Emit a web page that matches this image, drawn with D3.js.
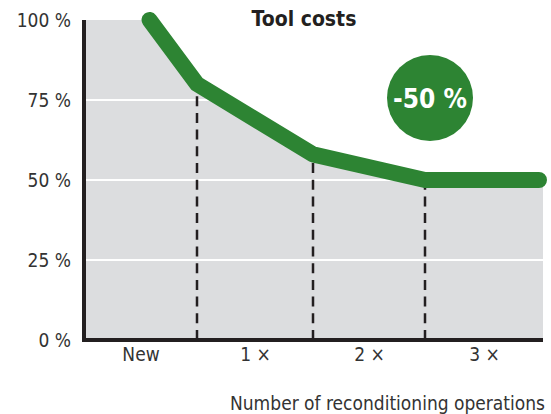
<!DOCTYPE html>
<html>
<head>
<meta charset="utf-8">
<script src="https://cdn.jsdelivr.net/npm/d3@7"></script>
<style>
  body { margin: 0; background: #fff; }
  text { font-family: "DejaVu Sans Condensed", "DejaVu Sans", sans-serif; }
</style>
</head>
<body>
<div id="chart"></div>
<script>
// categories along the x axis (one band each)
const categories = ["New", "1 \u00d7", "2 \u00d7", "3 \u00d7"];
// cost curve: position in operations and cost in percent
const costX = [0.58, 1, 2, 3, 3.966];
const costY = [100, 80, 58, 50, 50];
// grey area under the curve
const areaX = [0, 0.58, 1, 2, 3, 4];
const areaY = [100, 100, 80, 58, 50, 50];
// y ticks
const yTicks = [0, 25, 50, 75, 100];
const gridTicks = [25, 50, 75];
// boundaries where the dashed lines sit
const boundaries = [1, 2, 3];
const boundaryY = [80, 58, 50];

const W = 551, H = 414;

const svg = d3.select("#chart").append("svg")
    .attr("width", W)
    .attr("height", H);

// bands are not exactly equal in the original
const x = d3.scaleLinear().domain([0, 1, 2, 3, 4]).range([84, 197, 313, 425, 543]);
const y = d3.scaleLinear().domain([0, 100]).range([340, 20]);

// clip so gridlines only show inside the grey area
svg.append("clipPath")
    .attr("id", "under")
  .append("path")
    .attr("d", d3.area()
        .x((d, i) => x(areaX[i]))
        .y0(y(0))
        .y1(d => y(d))(areaY));

// grey area
svg.append("path")
    .datum(areaY)
    .attr("d", d3.area()
        .x((d, i) => x(areaX[i]))
        .y0(y(0))
        .y1(d => y(d)))
    .attr("fill", "#dcdddf");

// white gridlines
svg.append("g")
    .attr("clip-path", "url(#under)")
  .selectAll("line")
    .data(gridTicks)
    .join("line")
    .attr("x1", x(0))
    .attr("x2", x(4))
    .attr("y1", d => y(d))
    .attr("y2", d => y(d))
    .attr("stroke", "#fff")
    .attr("stroke-width", 2);

// dashed lines at each reconditioning
svg.selectAll(".drop")
    .data(boundaries)
    .join("line")
    .attr("class", "drop")
    .attr("x1", d => x(d))
    .attr("x2", d => x(d))
    .attr("y1", y(0))
    .attr("y2", (d, i) => y(boundaryY[i]))
    .attr("stroke", "#231f20")
    .attr("stroke-width", 2.5)
    .attr("stroke-dasharray", "10,6.7");

// y axis
const yAxis = svg.append("g")
    .attr("transform", `translate(${x(0)},0)`)
    .call(d3.axisLeft(y).tickValues(yTicks).tickSize(0).tickPadding(13).tickFormat(d => d + " %"));
yAxis.select(".domain").remove();
yAxis.selectAll("text")
    .style("font-family", "'DejaVu Sans Condensed', 'DejaVu Sans', sans-serif")
    .style("font-size", "19px")
    .attr("fill", "#333");

// x axis labels centred in each band
const xAxis = svg.append("g")
    .attr("transform", `translate(0,${y(0)})`)
    .call(d3.axisBottom(x).tickValues([0.5, 1.5, 2.5, 3.5]).tickSize(0).tickPadding(8)
        .tickFormat((d, i) => categories[i]));
xAxis.select(".domain").remove();
xAxis.selectAll("text")
    .style("font-family", "'DejaVu Sans Condensed', 'DejaVu Sans', sans-serif")
    .style("font-size", "19px")
    .attr("fill", "#333");

// axis frame (left + bottom)
svg.append("path")
    .attr("d", `M${x(0)},${y(100)}V${y(0)}H${x(4)}`)
    .attr("fill", "none")
    .attr("stroke", "#231f20")
    .attr("stroke-width", 4);

// cost line
const line = d3.line()
    .x((d, i) => x(costX[i]))
    .y(d => y(d));

svg.append("path")
    .datum(costY)
    .attr("d", line)
    .attr("fill", "none")
    .attr("stroke", "#2d8433")
    .attr("stroke-width", 16)
    .attr("stroke-linejoin", "round")
    .attr("stroke-linecap", "round");

// title
svg.append("text")
    .attr("x", 304)
    .attr("y", 26)
    .attr("text-anchor", "middle")
    .style("font-size", "21px")
    .style("font-weight", "bold")
    .attr("fill", "#231f20")
    .text("Tool costs");

// badge
svg.append("circle")
    .attr("cx", 430)
    .attr("cy", 98)
    .attr("r", 43)
    .attr("fill", "#2d8433");

svg.append("text")
    .attr("x", 430)
    .attr("y", 108)
    .attr("text-anchor", "middle")
    .style("font-size", "26px")
    .style("font-weight", "bold")
    .attr("fill", "#fff")
    .text("-50 %");

// x axis title
svg.append("text")
    .attr("x", 545)
    .attr("y", 410)
    .attr("text-anchor", "end")
    .style("font-size", "19px")
    .attr("fill", "#333")
    .text("Number of reconditioning operations");
</script>
</body>
</html>
